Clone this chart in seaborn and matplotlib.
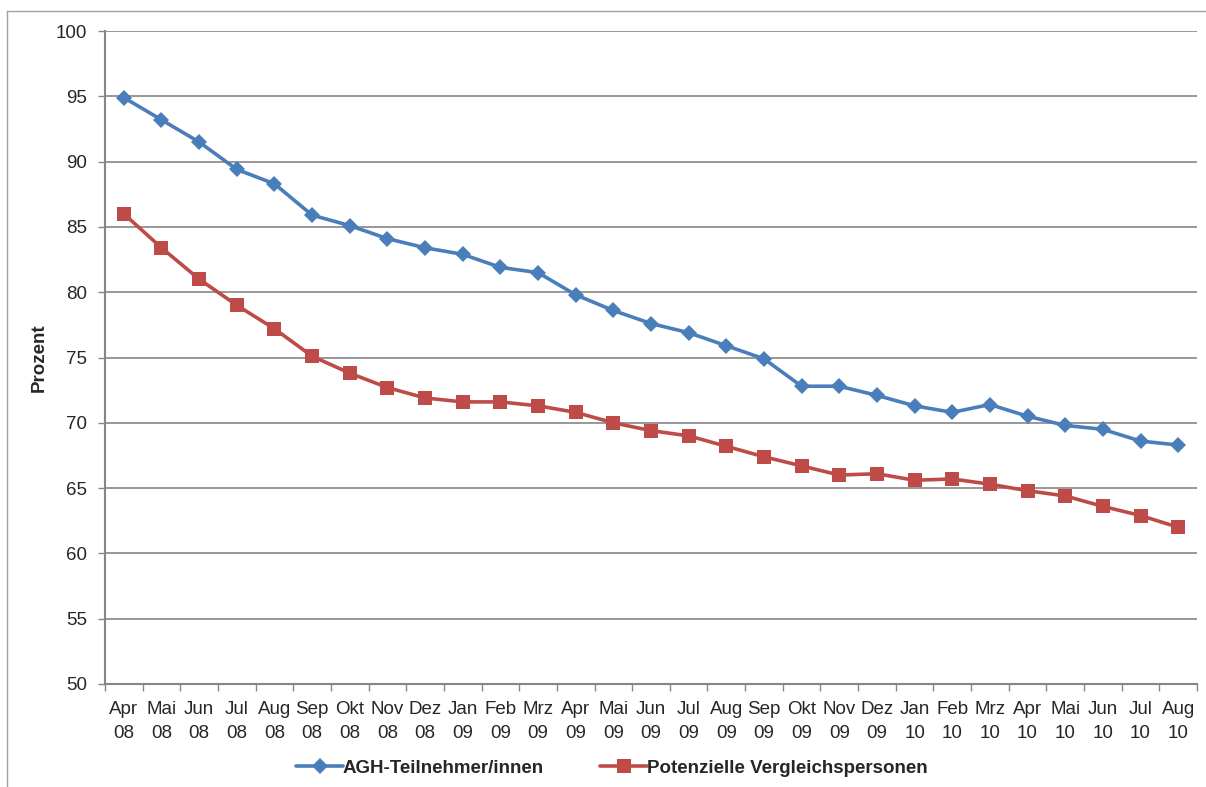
import matplotlib
matplotlib.use("Agg")
import matplotlib.pyplot as plt
from matplotlib.lines import Line2D
from matplotlib.ticker import FixedLocator, MultipleLocator
import pandas as pd
import seaborn as sns

MONTHS = ["Apr", "Mai", "Jun", "Jul", "Aug", "Sep", "Okt", "Nov", "Dez", "Jan",
          "Feb", "Mrz", "Apr", "Mai", "Jun", "Jul", "Aug", "Sep", "Okt", "Nov",
          "Dez", "Jan", "Feb", "Mrz", "Apr", "Mai", "Jun", "Jul", "Aug"]
YEARS = ["08"] * 9 + ["09"] * 12 + ["10"] * 8

AGH = [94.9, 93.2, 91.5, 89.4, 88.3, 85.9, 85.1, 84.1, 83.4, 82.9,
       81.9, 81.5, 79.8, 78.6, 77.6, 76.9, 75.9, 74.9, 72.8, 72.8,
       72.1, 71.3, 70.8, 71.4, 70.5, 69.8, 69.5, 68.6, 68.3]
VERGLEICH = [86.0, 83.4, 81.0, 79.0, 77.2, 75.1, 73.8, 72.7, 71.9, 71.6,
             71.6, 71.3, 70.8, 70.0, 69.4, 69.0, 68.2, 67.4, 66.7, 66.0,
             66.1, 65.6, 65.7, 65.3, 64.8, 64.4, 63.6, 62.9, 62.0]

SERIES_NAMES = ["AGH-Teilnehmer/innen", "Potenzielle Vergleichspersonen"]
COLORS = ["#4A7EBB", "#BE4B48"]

labels = [f"{m}\n{y}" for m, y in zip(MONTHS, YEARS)]
df = pd.DataFrame({"idx": range(len(MONTHS)), SERIES_NAMES[0]: AGH, SERIES_NAMES[1]: VERGLEICH})

sns.set_style("white")
plt.rcParams["font.family"] = ["Liberation Sans", "DejaVu Sans"]

fig = plt.figure(figsize=(12.06, 7.87), dpi=100)
ax = fig.add_axes([105 / 1206, 1 - 684 / 787, 1092 / 1206, 653 / 787])

sns.lineplot(data=df, x="idx", y=SERIES_NAMES[0], ax=ax, color=COLORS[0],
             linewidth=2.6, marker="D", markersize=8.5, markeredgewidth=0,
             label=SERIES_NAMES[0], legend=False)
sns.lineplot(data=df, x="idx", y=SERIES_NAMES[1], ax=ax, color=COLORS[1],
             linewidth=2.6, marker="s", markersize=9.5, markeredgewidth=0,
             label=SERIES_NAMES[1], legend=False)

ax.set_xlim(-0.5, len(MONTHS) - 0.5)
ax.set_ylim(50, 100)
ax.yaxis.set_major_locator(MultipleLocator(5))
ax.grid(axis="y", color="#868686", linewidth=1.2)
ax.set_axisbelow(True)

ax.set_xticks(range(len(MONTHS)))
ax.set_xticklabels(labels, fontsize=13.5, linespacing=1.55)
ax.xaxis.set_minor_locator(FixedLocator([i - 0.5 for i in range(len(MONTHS) + 1)]))
ax.tick_params(axis="x", which="major", length=0, pad=12)
ax.tick_params(axis="x", which="minor", length=5, width=1, color="#868686", direction="out")
ax.tick_params(axis="y", length=5, width=1, color="#868686", direction="out", pad=8, labelsize=13.5)
ax.tick_params(bottom=True, left=True, which="both")

for side in ["top", "right"]:
    ax.spines[side].set_visible(False)
for side in ["left", "bottom"]:
    ax.spines[side].set_color("#868686")
    ax.spines[side].set_linewidth(1.5)

ax.set_xlabel("")
ax.set_ylabel("Prozent", fontsize=13.5, fontweight="bold")
ax.yaxis.set_label_coords(-0.052, 0.5)

handles, hl = ax.get_legend_handles_labels()
fig.legend(handles, hl, loc="center", bbox_to_anchor=(612 / 1206, 1 - 768 / 787),
           ncol=2, frameon=False, prop={"weight": "bold", "size": 13.5},
           handlelength=2.5, handletextpad=0.0, columnspacing=3.0)

# chart border (only top and left edges visible in reference)
fig.add_artist(Line2D([7 / 1206, 1], [1 - 11 / 787, 1 - 11 / 787], color="#a0a0a0", linewidth=1))
fig.add_artist(Line2D([7 / 1206, 7 / 1206], [0, 1 - 11 / 787], color="#a0a0a0", linewidth=1))

fig.savefig("out.png", dpi=100)
